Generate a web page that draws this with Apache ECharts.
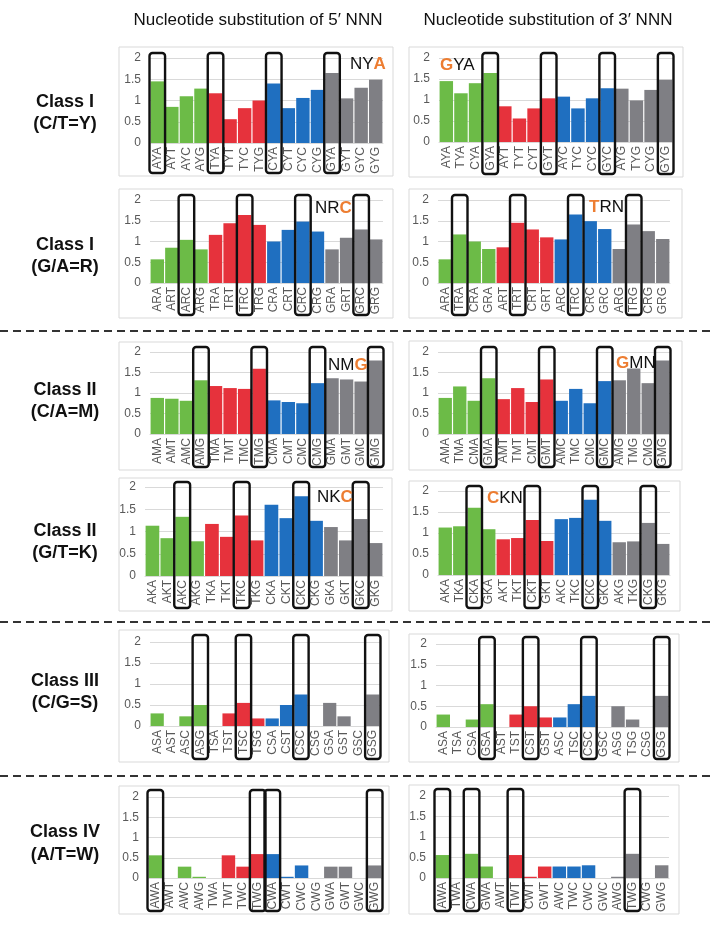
<!DOCTYPE html>
<html>
<head>
<meta charset="utf-8">
<script src="https://cdn.jsdelivr.net/npm/echarts@6/dist/echarts.min.js"></script>
<style>
html, body { margin: 0; padding: 0; background: #fff; }
#chart { width: 710px; height: 927px; }
</style>
</head>
<body>
<div id="chart"></div>
<script>
// Class I (C/T=Y)
const y5Cats = ['AYA', 'AYT', 'AYC', 'AYG', 'TYA', 'TYT', 'TYC', 'TYG', 'CYA', 'CYT', 'CYC', 'CYG', 'GYA', 'GYT', 'GYC', 'GYG'];
const y5Vals = [1.45, 0.85, 1.1, 1.28, 1.17, 0.56, 0.82, 1.0, 1.4, 0.82, 1.06, 1.25, 1.65, 1.05, 1.3, 1.49];
const y5Boxes = [0, 4, 8, 12];
const y3Cats = ['AYA', 'TYA', 'CYA', 'GYA', 'AYT', 'TYT', 'CYT', 'GYT', 'AYC', 'TYC', 'CYC', 'GYC', 'AYG', 'TYG', 'CYG', 'GYG'];
const y3Vals = [1.45, 1.16, 1.4, 1.64, 0.85, 0.56, 0.8, 1.04, 1.08, 0.8, 1.04, 1.28, 1.27, 0.99, 1.24, 1.48];
const y3Boxes = [3, 7, 11, 15];

// Class I (G/A=R)
const r5Cats = ['ARA', 'ART', 'ARC', 'ARG', 'TRA', 'TRT', 'TRC', 'TRG', 'CRA', 'CRT', 'CRC', 'CRG', 'GRA', 'GRT', 'GRC', 'GRG'];
const r5Vals = [0.57, 0.85, 1.04, 0.81, 1.16, 1.44, 1.64, 1.4, 1.0, 1.28, 1.48, 1.24, 0.81, 1.09, 1.29, 1.05];
const r5Boxes = [2, 6, 10, 14];
const r3Cats = ['ARA', 'TRA', 'CRA', 'GRA', 'ART', 'TRT', 'CRT', 'GRT', 'ARC', 'TRC', 'CRC', 'GRC', 'ARG', 'TRG', 'CRG', 'GRG'];
const r3Vals = [0.57, 1.17, 1.0, 0.82, 0.86, 1.45, 1.29, 1.1, 1.05, 1.65, 1.49, 1.3, 0.82, 1.41, 1.25, 1.06];
const r3Boxes = [1, 5, 9, 13];

// Class II (C/A=M)
const m5Cats = ['AMA', 'AMT', 'AMC', 'AMG', 'TMA', 'TMT', 'TMC', 'TMG', 'CMA', 'CMT', 'CMC', 'CMG', 'GMA', 'GMT', 'GMC', 'GMG'];
const m5Vals = [0.88, 0.86, 0.81, 1.31, 1.17, 1.12, 1.1, 1.59, 0.82, 0.78, 0.75, 1.24, 1.36, 1.33, 1.28, 1.79];
const m5Boxes = [3, 7, 11, 15];
const m3Cats = ['AMA', 'TMA', 'CMA', 'GMA', 'AMT', 'TMT', 'CMT', 'GMT', 'AMC', 'TMC', 'CMC', 'GMC', 'AMG', 'TMG', 'CMG', 'GMG'];
const m3Vals = [0.88, 1.16, 0.81, 1.36, 0.85, 1.12, 0.78, 1.33, 0.81, 1.1, 0.75, 1.29, 1.31, 1.6, 1.24, 1.79];
const m3Boxes = [3, 7, 11, 15];

// Class II (G/T=K)
const k5Cats = ['AKA', 'AKT', 'AKC', 'AKG', 'TKA', 'TKT', 'TKC', 'TKG', 'CKA', 'CKT', 'CKC', 'CKG', 'GKA', 'GKT', 'GKC', 'GKG'];
const k5Vals = [1.13, 0.85, 1.33, 0.78, 1.17, 0.88, 1.36, 0.8, 1.6, 1.3, 1.79, 1.24, 1.1, 0.8, 1.28, 0.74];
const k5Boxes = [2, 6, 10, 14];
const k3Cats = ['AKA', 'TKA', 'CKA', 'GKA', 'AKT', 'TKT', 'CKT', 'GKT', 'AKC', 'TKC', 'CKC', 'GKC', 'AKG', 'TKG', 'CKG', 'GKG'];
const k3Vals = [1.13, 1.16, 1.6, 1.09, 0.85, 0.88, 1.31, 0.81, 1.33, 1.36, 1.79, 1.29, 0.78, 0.8, 1.24, 0.74];
const k3Boxes = [2, 6, 10, 14];

// Class III (C/G=S)
const s5Cats = ['ASA', 'AST', 'ASC', 'ASG', 'TSA', 'TST', 'TSC', 'TSG', 'CSA', 'CST', 'CSC', 'CSG', 'GSA', 'GST', 'GSC', 'GSG'];
const s5Vals = [0.3, 0, 0.23, 0.5, 0, 0.3, 0.55, 0.18, 0.18, 0.5, 0.75, 0, 0.55, 0.23, 0, 0.75];
const s5Boxes = [3, 6, 10, 15];
const s3Cats = ['ASA', 'TSA', 'CSA', 'GSA', 'AST', 'TST', 'CST', 'GST', 'ASC', 'TSC', 'CSC', 'GSC', 'ASG', 'TSG', 'CSG', 'GSG'];
const s3Vals = [0.3, 0, 0.18, 0.55, 0, 0.3, 0.5, 0.23, 0.23, 0.55, 0.75, 0, 0.5, 0.18, 0, 0.75];
const s3Boxes = [3, 6, 10, 15];

// Class IV (A/T=W)
const w5Cats = ['AWA', 'AWT', 'AWC', 'AWG', 'TWA', 'TWT', 'TWC', 'TWG', 'CWA', 'CWT', 'CWC', 'CWG', 'GWA', 'GWT', 'GWC', 'GWG'];
const w5Vals = [0.56, 0, 0.28, 0.03, 0, 0.56, 0.28, 0.59, 0.59, 0.03, 0.31, 0, 0.28, 0.28, 0, 0.31];
const w5Boxes = [0, 7, 8, 15];
const w3Cats = ['AWA', 'TWA', 'CWA', 'GWA', 'AWT', 'TWT', 'CWT', 'GWT', 'AWC', 'TWC', 'CWC', 'GWC', 'AWG', 'TWG', 'CWG', 'GWG'];
const w3Vals = [0.56, 0, 0.59, 0.28, 0, 0.56, 0.03, 0.28, 0.28, 0.28, 0.31, 0, 0.03, 0.59, 0, 0.31];
const w3Boxes = [0, 2, 5, 13];

const yTicks = [0, 0.5, 1, 1.5, 2];
const groupColors = ['#6cbb47', '#e6323c', '#1f6fc0', '#7f7f84'];
const ORANGE = '#ed7d31';
const FONT = '"Liberation Sans", Arial, sans-serif';

const headers = ['Nucleotide substitution of 5\u2032 NNN', 'Nucleotide substitution of 3\u2032 NNN'];
const rowLabels = [
  ['Class I', '(C/T=Y)'],
  ['Class I', '(G/A=R)'],
  ['Class II', '(C/A=M)'],
  ['Class II', '(G/T=K)'],
  ['Class III', '(C/G=S)'],
  ['Class IV', '(A/T=W)'],
];

// layout: frame = panel border [x, y, w, h], grid = plot box [left, top, width, height]
const panels = [
  {cats: y5Cats, vals: y5Vals, boxes: y5Boxes, frame: [119, 47, 274, 129], grid: [150, 58, 233, 85], tag: [['NY', 'A'], 350, 65]},
  {cats: y3Cats, vals: y3Vals, boxes: y3Boxes, frame: [409, 47, 274, 130], grid: [439, 58, 234, 84], tag: [['', 'G', 'YA'], 440, 66]},
  {cats: r5Cats, vals: r5Vals, boxes: r5Boxes, frame: [119, 189, 274, 129], grid: [150, 200, 233, 83], tag: [['NR', 'C'], 315, 209]},
  {cats: r3Cats, vals: r3Vals, boxes: r3Boxes, frame: [409, 189, 273, 129], grid: [438, 200, 232, 83], tag: [['', 'T', 'RN'], 589, 208]},
  {cats: m5Cats, vals: m5Vals, boxes: m5Boxes, frame: [119, 342, 274, 128], grid: [150, 352, 233, 82], tag: [['NM', 'G'], 328, 366]},
  {cats: m3Cats, vals: m3Vals, boxes: m3Boxes, frame: [409, 341, 273, 129], grid: [438, 352, 232, 82], tag: [['', 'G', 'MN'], 616, 364]},
  {cats: k5Cats, vals: k5Vals, boxes: k5Boxes, frame: [119, 478, 273, 133], grid: [145, 487, 238, 89], tag: [['NK', 'C'], 317, 498]},
  {cats: k3Cats, vals: k3Vals, boxes: k3Boxes, frame: [409, 481, 271, 130], grid: [438, 491, 232, 84], tag: [['', 'C', 'KN'], 487, 499]},
  {cats: s5Cats, vals: s5Vals, boxes: s5Boxes, frame: [119, 630, 270, 132], grid: [150, 642, 230, 84], boxLift: 7},
  {cats: s3Cats, vals: s3Vals, boxes: s3Boxes, frame: [409, 634, 270, 128], grid: [436, 644, 233, 83], boxLift: 7},
  {cats: w5Cats, vals: w5Vals, boxes: w5Boxes, frame: [119, 786, 270, 128], grid: [148, 797, 234, 81], boxLift: 7},
  {cats: w3Cats, vals: w3Vals, boxes: w3Boxes, frame: [409, 785, 270, 129], grid: [435, 796, 234, 82], boxLift: 7},
];

const rowLabelY = [[102, 124], [245, 267], [390, 412], [531, 553], [681, 703], [832, 855]];
const dashY = [331, 622, 776];

/**
 * Build the custom renderer drawing the rounded highlight box
 * from just above the top tick down to the bottom of the labels.
 */
function makeBoxRenderer(bottomY, lift) {
  return function (params, api) {
    const top = api.coord([api.value(0), 2]);
    const w = api.size([1, 0])[0] + 1;
    return {
      type: 'rect',
      shape: {x: top[0] - w / 2, y: top[1] - lift, width: w, height: bottomY - top[1] + lift, r: 3},
      style: {fill: null, stroke: '#111', lineWidth: 2.4},
    };
  };
}

const grids = [];
const xAxes = [];
const yAxes = [];
const series = [];
const graphics = [];

panels.forEach((p, i) => {
  graphics.push({
    type: 'rect',
    shape: {x: p.frame[0], y: p.frame[1], width: p.frame[2], height: p.frame[3]},
    style: {fill: '#fff', stroke: '#d9d9d9', lineWidth: 1},
    z: -10,
  });

  grids.push({left: p.grid[0], top: p.grid[1], width: p.grid[2], height: p.grid[3]});

  xAxes.push({
    type: 'category',
    gridIndex: i,
    data: p.cats,
    axisLine: {lineStyle: {color: '#d9d9d9'}},
    axisTick: {show: false},
    axisLabel: {interval: 0, rotate: 90, margin: 4, color: '#595959', fontSize: 12, fontFamily: FONT},
  });

  yAxes.push({
    type: 'value',
    gridIndex: i,
    min: yTicks[0],
    max: yTicks[yTicks.length - 1],
    interval: yTicks[1] - yTicks[0],
    axisLine: {show: false},
    axisTick: {show: false},
    splitLine: {lineStyle: {color: '#d9d9d9'}},
    axisLabel: {color: '#595959', fontSize: 12, fontFamily: FONT, margin: 9},
  });

  series.push({
    type: 'bar',
    xAxisIndex: i,
    yAxisIndex: i,
    barCategoryGap: '8%',
    data: p.vals.map((v, j) => ({value: v, itemStyle: {color: groupColors[Math.floor(j / 4)]}})),
    silent: true,
  });

  series.push({
    type: 'custom',
    xAxisIndex: i,
    yAxisIndex: i,
    clip: false,
    z: 5,
    silent: true,
    renderItem: makeBoxRenderer(p.frame[1] + p.frame[3] - 3, p.boxLift || 5),
    data: p.boxes.map((idx) => [idx, 2]),
  });

  if (p.tag) {
    const parts = p.tag[0];
    // dark prefix, bold orange letter, dark suffix
    let text = '';
    if (parts[0]) text += '{d|' + parts[0] + '}';
    text += '{o|' + parts[1] + '}';
    if (parts[2]) text += '{d|' + parts[2] + '}';
    graphics.push({
      type: 'text',
      left: p.tag[1],
      top: p.tag[2] - 9,
      z: 10,
      style: {
        text: text,
        rich: {
          d: {fontSize: 17, fontFamily: FONT, fill: '#111'},
          o: {fontSize: 17, fontFamily: FONT, fontWeight: 'bold', fill: ORANGE},
        },
      },
    });
  }
});

headers.forEach((h, i) => {
  graphics.push({
    type: 'text',
    x: i === 0 ? 258 : 548,
    y: 20,
    style: {text: h, fontSize: 17, fontFamily: FONT, fill: '#111', align: 'center', verticalAlign: 'middle'},
  });
});

rowLabels.forEach((lines, i) => {
  lines.forEach((line, j) => {
    graphics.push({
      type: 'text',
      x: 65,
      y: rowLabelY[i][j],
      style: {text: line, fontSize: 18, fontWeight: 'bold', fontFamily: FONT, fill: '#111', align: 'center', verticalAlign: 'middle'},
    });
  });
});

dashY.forEach((y) => {
  graphics.push({
    type: 'line',
    shape: {x1: 0, y1: y, x2: 710, y2: y},
    style: {stroke: '#333', lineWidth: 2, lineDash: [8, 5]},
  });
});

const chart = echarts.init(document.getElementById('chart'));
chart.setOption({
  animation: false,
  backgroundColor: '#fff',
  grid: grids,
  xAxis: xAxes,
  yAxis: yAxes,
  series: series,
  graphic: graphics,
});
</script>
</body>
</html>
